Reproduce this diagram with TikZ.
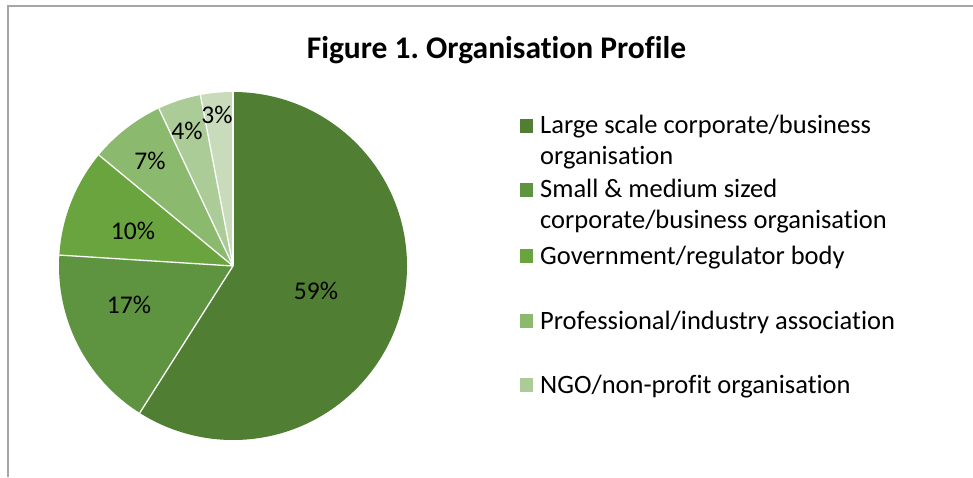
\documentclass[tikz,border=0pt]{standalone}
\usepackage{fontspec}
\setmainfont[Ligatures=NoCommon]{Carlito}
\frenchspacing
\definecolor{cA}{HTML}{507E32}
\definecolor{cB}{HTML}{5E9340}
\definecolor{cC}{HTML}{6AA43F}
\definecolor{cD}{HTML}{8BBA6E}
\definecolor{cE}{HTML}{ABCB97}
\definecolor{cF}{HTML}{C8DCBB}
\definecolor{frame}{HTML}{A6A6A6}
\tikzset{
  pct/.style={font=\fontsize{25.5}{30}\selectfont, inner sep=0pt, anchor=base},
  legtext/.style={font=\fontsize{26.5}{31}\selectfont, anchor=base west, inner sep=0pt},
  legsq/.style={minimum size=13.5pt, inner sep=0pt},
}
\begin{document}
\begin{tikzpicture}[x=1pt,y=1pt]
\useasboundingbox (0,0) rectangle (973,477);
\draw[frame, line width=2pt] (8,0) -- (8,471) -- (973,471);
\coordinate (c) at (233,211);
\def\R{174}
\fill[cA] (c) -- ++(90:\R) arc[start angle=90, end angle=-122.4, radius=\R] -- cycle;
\fill[cB] (c) -- ++(-122.4:\R) arc[start angle=-122.4, end angle=-183.6, radius=\R] -- cycle;
\fill[cC] (c) -- ++(-183.6:\R) arc[start angle=-183.6, end angle=-219.6, radius=\R] -- cycle;
\fill[cD] (c) -- ++(-219.6:\R) arc[start angle=-219.6, end angle=-244.8, radius=\R] -- cycle;
\fill[cE] (c) -- ++(-244.8:\R) arc[start angle=-244.8, end angle=-259.2, radius=\R] -- cycle;
\fill[cF] (c) -- ++(-259.2:\R) arc[start angle=-259.2, end angle=-270, radius=\R] -- cycle;
\foreach \a in {90,-122.4,-183.6,-219.6,-244.8,-259.2}
  \draw[white, line width=1.3pt] (c) -- ++(\a:\R);
\node[pct] (p1) at (316,178) {59\%};
\node[pct] (p2) at (129,164) {17\%};
\node[pct] (p3) at (133,238) {10\%};
\node[pct] (p4) at (150,307) {7\%};
\node[pct] (p5) at (187,337) {4\%};
\node[pct] (p6) at (217,353) {3\%};
\node[font=\bfseries\fontsize{31.5}{36}\selectfont, anchor=base, inner sep=0pt] (title) at (496.5,418) {Figure 1. Organisation Profile};
\node[legsq, fill=cA] (s1) at (526.5,351) {};
\node[legsq, fill=cB] (s2) at (526.5,287) {};
\node[legsq, fill=cC] (s3) at (526.5,221) {};
\node[legsq, fill=cD] (s4) at (526.5,156) {};
\node[legsq, fill=cE] (s5) at (526.5,92) {};
\node[legtext] (t1a) at (540,343) {Large scale corporate/business};
\node[legtext] (t1b) at (540,312) {organisation};
\node[legtext] (t2a) at (540,279) {Small \& medium sized};
\node[legtext] (t2b) at (540,248) {corporate/business organisation};
\node[legtext] (t3) at (540,213) {Government/regulator body};
\node[legtext] (t4) at (540,148) {Professional/industry association};
\node[legtext] (t5) at (540,84) {NGO/non-profit organisation};
\end{tikzpicture}
\end{document}
